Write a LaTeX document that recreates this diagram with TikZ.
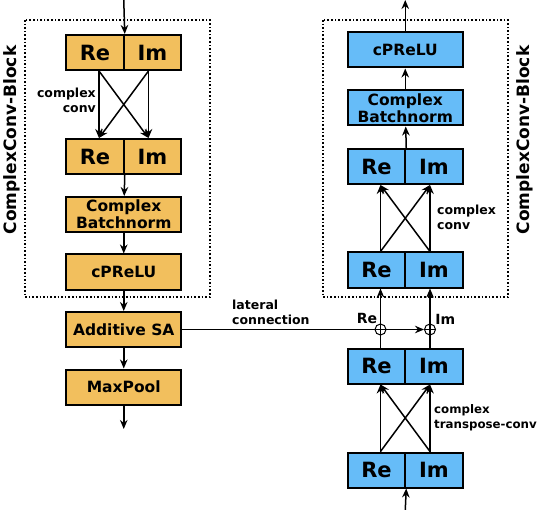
\documentclass[tikz,border=0pt]{standalone}
\usepackage{fontspec}
\setmainfont{DejaVu Sans}
\usepackage{xcolor}
\usepackage{tikz}
\usetikzlibrary{arrows.meta,positioning,calc}
\definecolor{encc}{HTML}{F2BF5D}
\definecolor{decc}{HTML}{66BCF8}
\tikzset{
  ar/.style={-{Stealth[length=9pt,width=7.5pt]},line width=1.5pt},
  box/.style={draw,line width=2pt,minimum width=115pt,minimum height=35pt,align=center,inner sep=1pt,font=\bfseries\fontsize{15.5}{17}\selectfont},
  half/.style={box,minimum width=57.5pt,font=\bfseries\fontsize{21}{23}\selectfont},
  lab/.style={font=\bfseries\fontsize{12.5}{15}\selectfont,inner sep=0pt},
  blk/.style={draw,dotted,line width=1.6pt},
  addc/.style={circle,draw,line width=1pt,minimum size=11pt,inner sep=0pt}
}
\begin{document}
\begin{tikzpicture}[x=1pt,y=-1pt]
\useasboundingbox (0,0) rectangle (540,510);
\draw[blk] (25,20) rectangle (210,297);
\draw[blk] (323,20) rectangle (508,297);
\node[rotate=90,font=\bfseries\fontsize{17}{18}\selectfont] (tagL) at (12,140) {ComplexConv-Block};
\node[rotate=90,font=\bfseries\fontsize{17}{18}\selectfont] (tagR) at (525,140) {ComplexConv-Block};
\node[half,fill=encc] (reA) at (95,52.5) {Re};
\node[half,fill=encc] (imA) at (152.5,52.5) {Im};
\node[half,fill=encc] (reB) at (95,156.5) {Re};
\node[half,fill=encc] (imB) at (152.5,156.5) {Im};
\node[box,fill=encc] (bnL) at (123.75,214.5) {Complex\\Batchnorm};
\node[box,fill=encc] (reluL) at (123.75,272) {cPReLU};
\node[box,fill=encc] (saL) at (123.75,329.5) {Additive SA};
\node[box,fill=encc] (poolL) at (123.75,387) {MaxPool};
\coordinate (inL) at (123.75,0);
\coordinate (outL) at (123.75,429);
\draw[ar] (inL) -- (reA.north east);
\draw[ar] ([xshift=4pt]reA.south) -- ([xshift=4pt]reB.north);
\draw[ar] ([xshift=-4pt]imA.south) -- ([xshift=-4pt]imB.north);
\draw[ar] ([xshift=4pt]reA.south) -- ([xshift=-4pt]imB.north);
\draw[ar] ([xshift=-4pt]imA.south) -- ([xshift=4pt]reB.north);
\node[lab,anchor=east,align=right] (cvL) at (96,100.5) {complex\\conv};
\draw[ar] (reB.south east) -- (bnL);
\draw[ar] (bnL) -- (reluL);
\draw[ar] (reluL) -- (saL);
\draw[ar] (saL) -- (poolL);
\draw[ar] (poolL) -- (outL);
\node[half,fill=decc] (reD) at (376.5,470) {Re};
\node[half,fill=decc] (imD) at (434,470) {Im};
\node[half,fill=decc] (reC) at (376.5,366) {Re};
\node[half,fill=decc] (imC) at (434,366) {Im};
\node[half,fill=decc] (reE) at (376.5,270) {Re};
\node[half,fill=decc] (imE) at (434,270) {Im};
\node[half,fill=decc] (reF) at (376.5,166.5) {Re};
\node[half,fill=decc] (imF) at (434,166.5) {Im};
\node[box,fill=decc] (bnR) at (405.25,108) {Complex\\Batchnorm};
\node[box,fill=decc] (reluR) at (405.25,50) {cPReLU};
\coordinate (inR) at (405.25,510);
\coordinate (outR) at (405.25,0);
\draw[ar] (inR) -- (reD.south east);
\draw[ar] ([xshift=4pt]reD.north) -- ([xshift=4pt]reC.south);
\draw[ar] ([xshift=-4pt]imD.north) -- ([xshift=-4pt]imC.south);
\draw[ar] ([xshift=4pt]reD.north) -- ([xshift=-4pt]imC.south);
\draw[ar] ([xshift=-4pt]imD.north) -- ([xshift=4pt]reC.south);
\node[lab,font=\bfseries\fontsize{11.8}{15}\selectfont,anchor=west,align=left] (tcvR) at (434,417.5) {complex\\transpose-conv};
\node[addc] (addRe) at ([xshift=4pt]reC.north |- saL) {};
\node[addc] (addIm) at ([xshift=-4pt]imC.north |- saL) {};
\draw[ar] ([xshift=4pt]reC.north) -- ([xshift=4pt]reE.south);
\draw[ar] ([xshift=-4pt]imC.north) -- ([xshift=-4pt]imE.south);
\draw[line width=1pt] (addIm.west) -- (addIm.east);
\draw[ar] (saL.east) -- (addIm.west);
\node[lab,anchor=west,align=left] (latc) at (232,312) {lateral\\connection};
\node[lab,font=\bfseries\fontsize{14}{15}\selectfont,anchor=south east] (tRe) at ([xshift=1pt,yshift=1pt]addRe.north west) {Re};
\node[lab,font=\bfseries\fontsize{14}{15}\selectfont,anchor=south west] (tIm) at ([xshift=1pt,yshift=1pt]addIm.north east) {Im};
\draw[ar] ([xshift=4pt]reE.north) -- ([xshift=4pt]reF.south);
\draw[ar] ([xshift=-4pt]imE.north) -- ([xshift=-4pt]imF.south);
\draw[ar] ([xshift=4pt]reE.north) -- ([xshift=-4pt]imF.south);
\draw[ar] ([xshift=-4pt]imE.north) -- ([xshift=4pt]reF.south);
\node[lab,anchor=west,align=left] (cvR) at (437,217.5) {complex\\conv};
\draw[ar] (reF.north east) -- (bnR);
\draw[ar] (bnR) -- (reluR);
\draw[ar] (reluR) -- (outR);
\end{tikzpicture}
\end{document}
